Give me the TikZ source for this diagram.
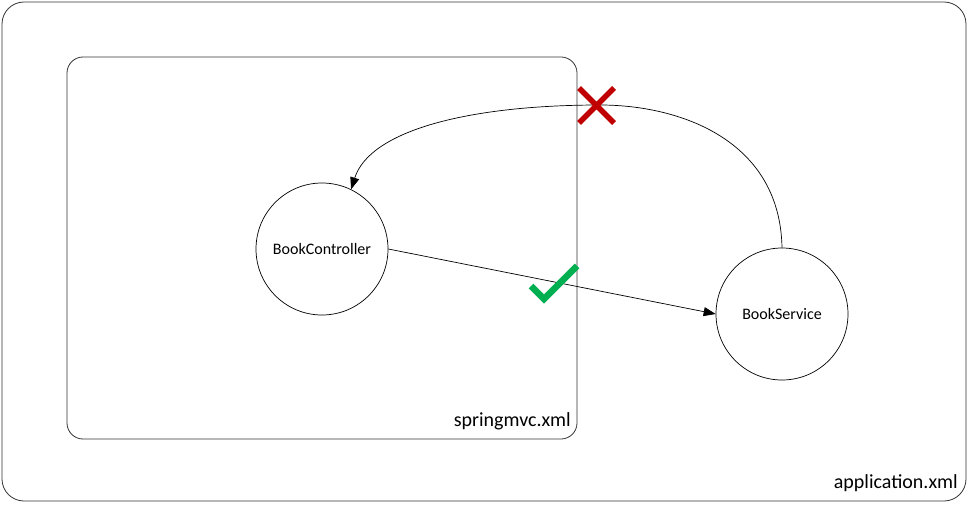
\documentclass[tikz,border=0pt]{standalone}
\usepackage{fontspec}
\setmainfont{Carlito}
\usetikzlibrary{arrows.meta}
\begin{document}
\begin{tikzpicture}[x=1pt,y=-1pt,
  frame/.style={draw=black!80,line width=0.8pt},
  bean/.style={circle,draw=black,line width=0.7pt,minimum size=132pt,inner sep=0pt,font=\fontsize{16}{19}\selectfont},
  conn/.style={draw=black,line width=0.7pt,-{Triangle[length=12pt,width=9pt]}},
  xmllabel/.style={anchor=south east,inner sep=0pt,font=\fontsize{20}{24}\selectfont}]
\useasboundingbox (0,0) rectangle (969,505);
\draw[frame,rounded corners=22pt] (2,2) rectangle (966,501);
\draw[frame,rounded corners=16pt] (67,57) rectangle (577,439);
\node[xmllabel] (app) at (958,492) {application.xml};
\node[xmllabel] (mvc) at (571,430) {springmvc.xml};
\node[bean] (ctrl) at (322,249) {BookController};
\node[bean] (svc) at (782,314) {BookService};
\coordinate (apex) at (600,105);
\draw[conn] (svc.north) .. controls (780,140) and (680,105) .. (apex)
  .. controls (470,105) and (370,130) .. (ctrl.64);
\draw[conn] (ctrl.east) -- (svc.west);
\coordinate (x1) at (579,88);
\coordinate (x2) at (614,123);
\coordinate (x3) at (614,88);
\coordinate (x4) at (579,123);
\draw[draw={rgb,255:red,192;green,0;blue,0},line width=5.5pt] (x1) -- (x2) (x3) -- (x4);
\coordinate (c1) at (531,286);
\coordinate (c2) at (544,299);
\coordinate (c3) at (577,266);
\draw[draw={rgb,255:red,0;green,176;blue,80},line width=6.5pt] (c1) -- (c2) -- (c3);
\end{tikzpicture}
\end{document}
